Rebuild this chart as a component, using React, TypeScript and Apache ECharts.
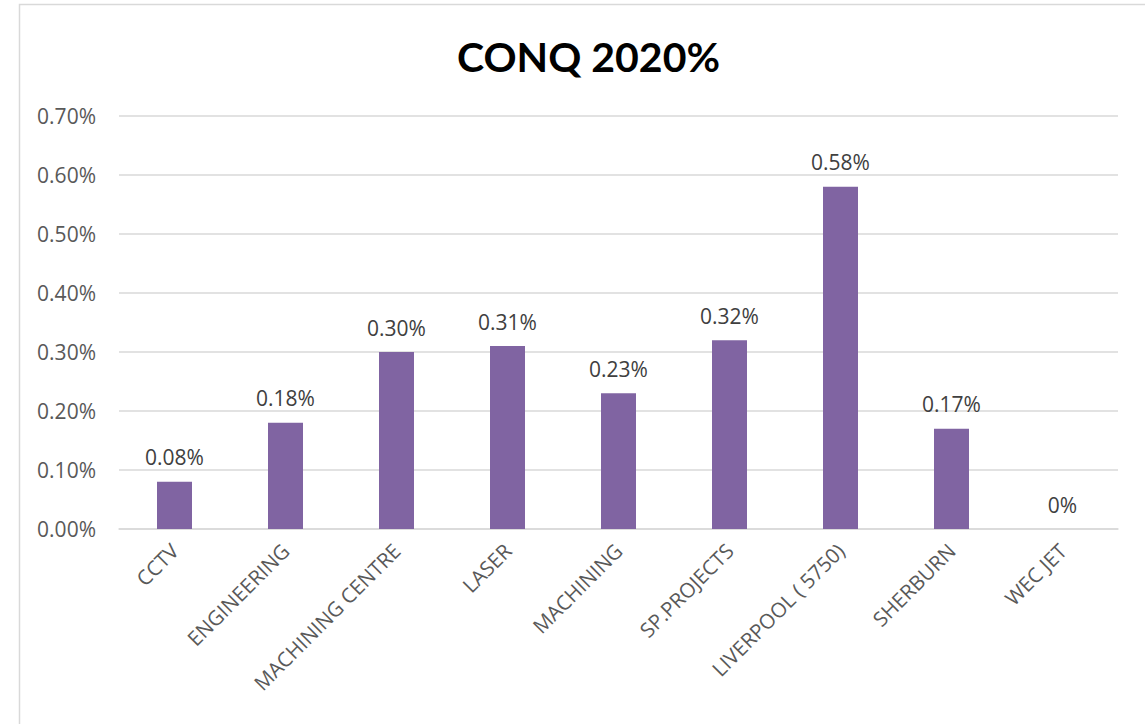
import React, { useEffect, useRef } from "react";
import * as echarts from "echarts";

const categories = [
  "CCTV",
  "ENGINEERING",
  "MACHINING CENTRE",
  "LASER",
  "MACHINING",
  "SP.PROJECTS",
  "LIVERPOOL ( 5750)",
  "SHERBURN",
  "WEC JET",
];
const values = [0.08, 0.18, 0.3, 0.31, 0.23, 0.32, 0.58, 0.17, 0];
const titleText = "CONQ 2020%";

export default function App() {
  const ref = useRef<HTMLDivElement>(null);
  useEffect(() => {
    if (!ref.current) return;
    const chart = echarts.init(ref.current, undefined, { renderer: "svg" });
    const font = "'Open Sans', 'DejaVu Sans', sans-serif";
    chart.setOption({
      animation: false,
      backgroundColor: "#ffffff",
      title: {
        text: titleText,
        left: 452,
        top: 31,
        textStyle: {
          fontFamily: "Lato, 'Open Sans', sans-serif",
          fontWeight: "bold",
          fontSize: 41,
          color: "#000000",
        },
      },
      graphic: [
        {
          type: "rect",
          shape: { x: 19.5, y: 4.5, width: 1300, height: 900 },
          style: { fill: "none", stroke: "#D9D9D9", lineWidth: 1.5 },
          silent: true,
        },
      ],
      grid: { left: 119, right: 27, top: 116, bottom: 195, containLabel: false },
      xAxis: {
        type: "category",
        data: categories,
        axisLine: { show: true, lineStyle: { color: "#D9D9D9", width: 1.5 } },
        axisTick: { show: false },
        axisLabel: {
          rotate: 45,
          interval: 0,
          margin: 18,
          color: "#595959",
          fontSize: 20.5,
          fontFamily: font,
        },
      },
      yAxis: {
        type: "value",
        min: 0,
        max: 0.7,
        interval: 0.1,
        axisLine: { show: false },
        axisTick: { show: false },
        splitLine: { lineStyle: { color: "#D9D9D9", width: 1.5 } },
        axisLabel: {
          margin: 23,
          color: "#595959",
          fontSize: 21,
          fontFamily: font,
          formatter: (v: number) => v.toFixed(2) + "%",
        },
      },
      series: [
        {
          type: "bar",
          data: values,
          barWidth: 35,
          itemStyle: { color: "#8064A2" },
          label: {
            show: true,
            position: "top",
            distance: 14,
            color: "#404040",
            fontSize: 21,
            fontFamily: font,
            formatter: (p: any) => (p.value === 0 ? "0%" : p.value.toFixed(2) + "%"),
          },
        },
      ],
    });
    return () => chart.dispose();
  }, []);
  return (
    <div
      ref={ref}
      style={{ position: "fixed", left: 0, top: 0, width: 1145, height: 724 }}
    />
  );
}
